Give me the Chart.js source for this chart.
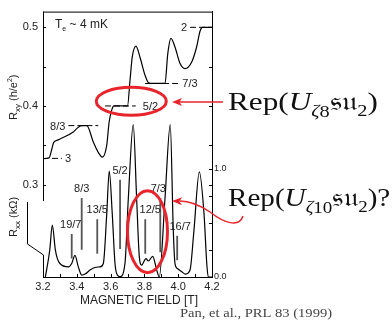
<!DOCTYPE html>
<html>
<head>
<meta charset="utf-8">
<script src="https://cdn.jsdelivr.net/npm/chart.js@4.4.0/dist/chart.umd.min.js"></script>
<style>
  html, body { margin: 0; padding: 0; background: #fff; }
  #wrap { width: 392px; height: 322px; }
</style>
</head>
<body>
<div id="wrap"><canvas id="chart" width="392" height="322"></canvas></div>
<script>
// Hall resistance R_xy (h/e^2) against magnetic field (T)
const rxyField = [3.200, 3.236, 3.252, 3.262, 3.280, 3.301, 3.379, 3.409, 3.429, 3.459, 3.498, 3.527, 3.551,
  3.577, 3.591, 3.607, 3.620, 3.700, 3.715, 3.728, 3.750, 3.774, 3.804, 3.827, 3.853, 3.922, 3.938, 3.957,
  3.981, 4.011, 4.040, 4.080, 4.109, 4.129, 4.143, 4.200];
const rxyValues = [0.333, 0.334, 0.345, 0.353, 0.356, 0.358, 0.367, 0.373, 0.375, 0.375, 0.354, 0.341, 0.335,
  0.350, 0.379, 0.395, 0.400, 0.400, 0.433, 0.462, 0.476, 0.462, 0.439, 0.429, 0.4286, 0.4286, 0.466, 0.486,
  0.475, 0.454, 0.4475, 0.456, 0.475, 0.495, 0.500, 0.500];

// Longitudinal resistance R_xx (kOhm) against magnetic field (T)
const rxxField = [3.214, 3.240, 3.255, 3.273, 3.285, 3.300, 3.350, 3.370, 3.389, 3.409, 3.429, 3.449, 3.478,
  3.508, 3.537, 3.557, 3.577, 3.592, 3.610, 3.626, 3.640, 3.656, 3.685, 3.705, 3.734, 3.754, 3.770, 3.784,
  3.809, 3.823, 3.849, 3.873, 3.888, 3.922, 3.953, 3.971, 3.981, 3.995, 4.021, 4.044, 4.070, 4.093, 4.125,
  4.153, 4.169, 4.178, 4.200];
const rxxValues = [0.000, 0.250, 0.479, 0.250, 0.170, 0.125, 0.094, 0.125, 0.200, 0.094, 0.018, 0.027, 0.064,
  0.088, 0.094, 0.125, 0.579, 0.979, 0.579, 0.125, 0.018, 0.003, 0.125, 0.730, 1.410, 0.730, 0.185, 0.110,
  0.170, 0.148, 0.190, 0.064, 0.000, 0.730, 1.410, 0.427, 0.125, 0.079, 0.048, 0.027, 0.064, 0.427, 0.973,
  0.579, 0.125, 0.000, 0.000];

// Hall plateaus (filling factor, R_xy = 1/nu) and the field range of each dashed marker
const plateauLabels = ['3', '8/3', '5/2', '7/3', '2'];
const plateauValues = [1 / 3, 3 / 8, 2 / 5, 3 / 7, 1 / 2];
const plateauFrom = [3.253, 3.350, 3.567, 3.804, 4.070];
const plateauTo = [3.312, 3.527, 3.749, 4.001, 4.200];

// fractional states marked on R_xx
const fracLabels = ['19/7', '8/3', '13/5', '5/2', '12/5', '7/3', '16/7'];
const fracField = [3.370, 3.429, 3.521, 3.656, 3.805, 3.894, 3.994];
const fracTop = [0.398, 0.730, 0.533, 0.900, 0.533, 0.730, 0.382];
const fracBottom = [0.170, 0.252, 0.215, 0.260, 0.215, 0.230, 0.155];

const fieldTicks = [3.2, 3.4, 3.6, 3.8, 4.0, 4.2];
const rxyTicks = [0.3, 0.4, 0.5];
const rxxTicks = [0.0, 1.0];

const SANS = "'Liberation Sans', Arial, sans-serif";
const SERIF = "'Liberation Serif', 'DejaVu Serif', serif";
const RED = '#e8242c';

const plateauData = [];
plateauValues.forEach((v, i) => {
  plateauData.push({ x: plateauFrom[i], y: v }, { x: plateauTo[i], y: v }, { x: plateauTo[i], y: null });
});
const fracData = [];
fracField.forEach((f, i) => {
  fracData.push({ x: f, y: fracBottom[i] }, { x: f, y: fracTop[i] }, { x: f, y: null });
});

// draws a row of text pieces: [text, font, dy]
function drawRuns(ctx, x, y, runs) {
  let cx = x;
  runs.forEach(([t, font, dy]) => {
    ctx.font = font;
    ctx.fillText(t, cx, y + (dy || 0));
    cx += ctx.measureText(t).width;
  });
  return cx;
}

// same, horizontally stretched (the original uses a wide TeX font)
function drawWide(ctx, x, y, sx, runs) {
  ctx.save();
  ctx.translate(x, y);
  ctx.scale(sx, 1);
  drawRuns(ctx, 0, 0, runs);
  ctx.restore();
}

function arrowHead(ctx, tipX, tipY, angle, len, half) {
  ctx.save();
  ctx.translate(tipX, tipY);
  ctx.rotate(angle);
  ctx.beginPath();
  ctx.moveTo(0, 0);
  ctx.lineTo(len, -half);
  ctx.lineTo(len * 0.75, 0);
  ctx.lineTo(len, half);
  ctx.closePath();
  ctx.fill();
  ctx.restore();
}

const decor = {
  id: 'decor',
  afterDatasetsDraw(chart) {
    const { ctx, chartArea: a, scales } = chart;
    const x = scales.x, y = scales.y, y2 = scales.y2;
    ctx.save();

    // axes frame: left axis is broken between the two panels
    ctx.strokeStyle = '#000';
    ctx.lineWidth = 1;
    ctx.beginPath();
    ctx.moveTo(a.left + 0.5, a.top);
    ctx.lineTo(a.left + 0.5, 201);
    ctx.moveTo(27.5, 202);
    ctx.lineTo(27.5, 244);
    ctx.lineTo(a.left + 0.5, 255);
    ctx.lineTo(a.left + 0.5, a.bottom);
    ctx.moveTo(a.left, a.top + 0.5);
    ctx.lineTo(a.right, a.top + 0.5);
    ctx.stroke();

    // small inward ticks
    ctx.beginPath();
    for (let v = 0.30; v <= 0.5001; v += 0.05) {
      const p = Math.round(y.getPixelForValue(v)) + 0.5;
      ctx.moveTo(a.left, p); ctx.lineTo(a.left + 3, p);
      ctx.moveTo(a.right, p); ctx.lineTo(a.right - 3, p);
    }
    for (let v = 0; v <= 1.0001; v += 0.25) {
      const p = Math.round(y2.getPixelForValue(v)) + 0.5;
      ctx.moveTo(a.right, p); ctx.lineTo(a.right - 3, p);
    }
    for (let v = 3.2; v <= 4.2001; v += 0.1) {
      const p = Math.round(x.getPixelForValue(v)) + 0.5;
      ctx.moveTo(p, a.bottom); ctx.lineTo(p, a.bottom - 3);
    }
    ctx.stroke();

    ctx.fillStyle = '#222';
    ctx.textBaseline = 'alphabetic';

    // plateau labels
    const side = ['right', 'left', 'right', 'right', 'left'];
    const gap = [3, 3, 7, 4, 3];
    ctx.font = '11px ' + SANS;
    plateauLabels.forEach((t, i) => {
      const py = y.getPixelForValue(plateauValues[i]) + 4;
      if (side[i] === 'right') {
        ctx.textAlign = 'left';
        ctx.fillText(t, x.getPixelForValue(plateauTo[i]) + gap[i], py);
      } else {
        ctx.textAlign = 'right';
        ctx.fillText(t, x.getPixelForValue(plateauFrom[i]) - gap[i], py);
      }
    });

    // fraction labels above the grey markers
    const dx = [-1, 0, 0, 0, 5, -2, 3];
    ctx.textAlign = 'center';
    fracLabels.forEach((t, i) => {
      ctx.fillText(t, x.getPixelForValue(fracField[i]) + dx[i], y2.getPixelForValue(fracTop[i]) - 6);
    });

    // temperature note
    ctx.textAlign = 'left';
    drawRuns(ctx, 55, 28, [['T', '12px ' + SANS], ['e', '7px ' + SANS, 3], [' ~ 4 mK', '12px ' + SANS]]);

    // axis titles
    ctx.save();
    ctx.translate(17, 120);
    ctx.rotate(-Math.PI / 2);
    drawRuns(ctx, 0, 0, [['R', '11px ' + SANS], ['xy', '8px ' + SANS, 3], [' (h/e', '11px ' + SANS],
      ['2', '7px ' + SANS, -5], [')', '11px ' + SANS]]);
    ctx.restore();
    ctx.save();
    ctx.translate(17, 237);
    ctx.rotate(-Math.PI / 2);
    drawRuns(ctx, 0, 0, [['R', '11px ' + SANS], ['xx', '8px ' + SANS, 3], [' (k\u03A9)', '11px ' + SANS]]);
    ctx.restore();

    ctx.font = '12px ' + SANS;
    ctx.fillText('MAGNETIC FIELD [T]', 80, 304);

    // red highlights
    ctx.strokeStyle = RED;
    ctx.fillStyle = RED;
    ctx.lineWidth = 3;
    ctx.beginPath();
    ctx.ellipse(131.3, 101.3, 35, 14, 0, 0, Math.PI * 2);
    ctx.stroke();
    ctx.beginPath();
    ctx.ellipse(147.5, 231.7, 20, 41, 0, 0, Math.PI * 2);
    ctx.stroke();

    ctx.lineWidth = 1.5;
    ctx.beginPath();
    ctx.moveTo(223, 102);
    ctx.lineTo(178, 102);
    ctx.stroke();
    arrowHead(ctx, 172, 102, 0, 10, 4);

    ctx.beginPath();
    ctx.moveTo(243, 216);
    ctx.bezierCurveTo(239, 228, 224, 223, 210, 212);
    ctx.bezierCurveTo(198, 204, 190, 201, 180, 201);
    ctx.stroke();
    arrowHead(ctx, 172, 201, 0.03, 10, 4);

    // representation labels
    ctx.fillStyle = '#111';
    const big = '26px ' + SERIF, bigIt = 'italic 26px ' + SERIF;
    const sub = '17px ' + SERIF, subIt = 'italic 17px ' + SERIF;
    drawWide(ctx, 228, 110, 1.2, [['Rep(', big], ['U', bigIt], ['\u03B6', subIt, 6], ['8', sub, 7],
      ['\uD835\uDD30\uD835\uDD32', big], ['2', sub, 6], [')', big]]);
    drawWide(ctx, 228, 206, 1.12, [['Rep(', big], ['U', bigIt], ['\u03B6', subIt, 6], ['10', sub, 7],
      ['\uD835\uDD30\uD835\uDD32', big], ['2', sub, 6], [')?', big]]);

    ctx.fillStyle = '#444';
    drawWide(ctx, 180, 317, 1.12, [['Pan, et al., PRL 83 (1999)', '13px ' + SERIF]]);

    ctx.restore();
  }
};

new Chart(document.getElementById('chart').getContext('2d'), {
  type: 'line',
  data: {
    datasets: [
      {
        data: rxyField.map((f, i) => ({ x: f, y: rxyValues[i] })),
        yAxisID: 'y',
        borderColor: '#000',
        borderWidth: 1.2,
        pointRadius: 0,
        cubicInterpolationMode: 'monotone'
      },
      {
        data: rxxField.map((f, i) => ({ x: f, y: rxxValues[i] })),
        yAxisID: 'y2',
        borderColor: '#000',
        borderWidth: 1.2,
        pointRadius: 0,
        cubicInterpolationMode: 'monotone'
      },
      {
        data: plateauData,
        yAxisID: 'y',
        borderColor: '#000',
        borderWidth: 1,
        borderDash: [6, 3],
        pointRadius: 0,
        spanGaps: false
      },
      {
        data: fracData,
        yAxisID: 'y2',
        borderColor: '#555',
        borderWidth: 1.8,
        pointRadius: 0,
        spanGaps: false
      }
    ]
  },
  options: {
    responsive: false,
    animation: false,
    layout: { padding: { top: 7, left: 0, right: 0, bottom: 0 } },
    plugins: { legend: { display: false }, tooltip: { enabled: false } },
    scales: {
      x: {
        type: 'linear',
        min: 3.2,
        max: 4.2,
        afterBuildTicks: s => { s.ticks = fieldTicks.map(v => ({ value: v })); },
        afterFit: s => { s.height = 45; },
        grid: { display: false, drawTicks: false },
        border: { display: true, color: '#000', width: 1 },
        ticks: { padding: 3, color: '#222', autoSkip: false, maxRotation: 0,
          font: { family: SANS, size: 11 }, callback: v => v.toFixed(1) }
      },
      y: {
        type: 'linear',
        position: 'left',
        min: 0.1825,
        max: 0.52,
        afterBuildTicks: s => { s.ticks = rxyTicks.map(v => ({ value: v })); },
        afterFit: s => { s.width = 43; },
        grid: { display: false, drawTicks: false },
        border: { display: false },
        ticks: { padding: 5, color: '#222', font: { family: SANS, size: 11 }, callback: v => v.toFixed(1) }
      },
      y2: {
        type: 'linear',
        position: 'right',
        min: 0,
        max: 270 / 110,
        afterBuildTicks: s => { s.ticks = rxxTicks.map(v => ({ value: v })); },
        afterFit: s => { s.width = 180; },
        grid: { display: false, drawTicks: false },
        border: { display: true, color: '#000', width: 1 },
        ticks: { padding: 2, color: '#222', font: { family: SANS, size: 9 }, callback: v => v.toFixed(1) }
      }
    }
  },
  plugins: [decor]
});
</script>
</body>
</html>
